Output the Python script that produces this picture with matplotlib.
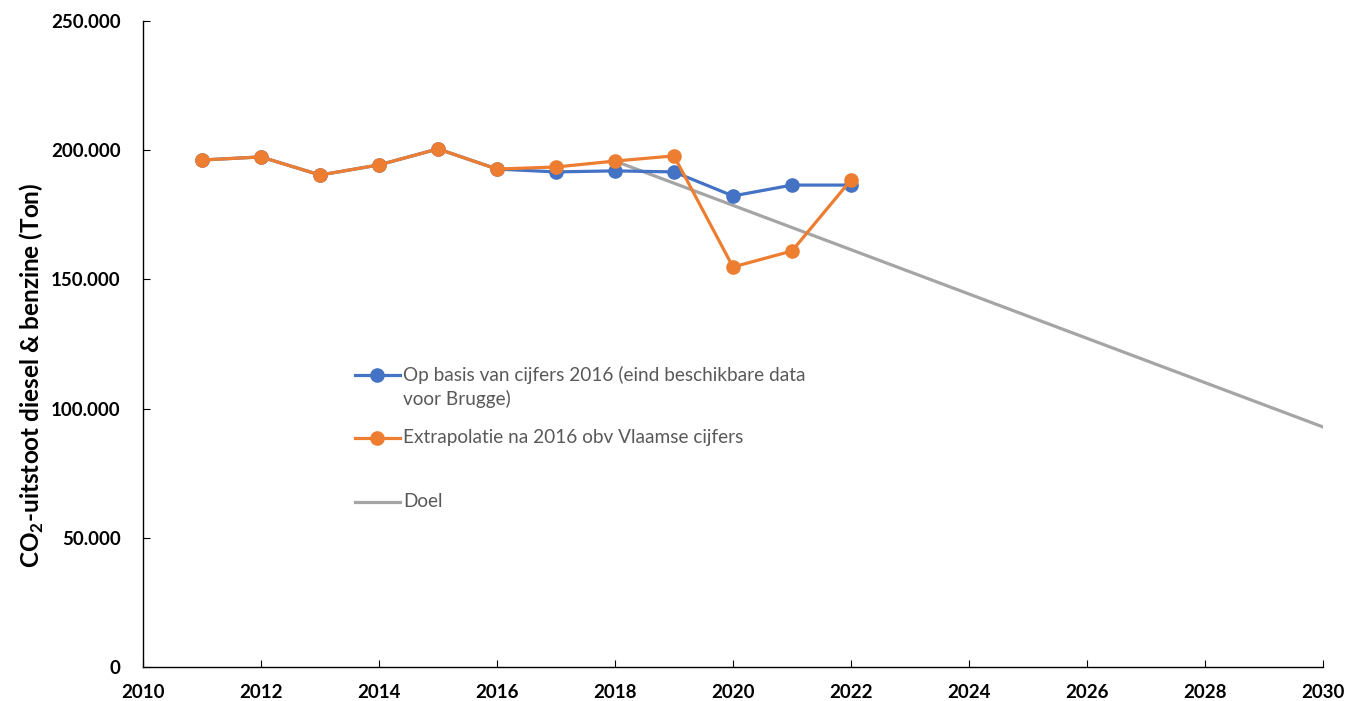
import matplotlib
matplotlib.use("Agg")
import matplotlib.pyplot as plt
from matplotlib.ticker import FuncFormatter

# ── Data ────────────────────────────────────────────────────────────────────
years = [2011, 2012, 2013, 2014, 2015, 2016, 2017, 2018, 2019, 2020, 2021, 2022]
basis_2016 = [196200, 197400, 190400, 194300, 200500, 192700,
              191600, 192000, 191600, 182300, 186500, 186500]
extrapolatie = [196200, 197400, 190400, 194300, 200500, 192700,
                193500, 195800, 197800, 154800, 161000, 188500]
doel_years = [2018, 2030]
doel = [195800, 92900]

labels = ["Op basis van cijfers 2016 (eind beschikbare data\nvoor Brugge)",
          "Extrapolatie na 2016 obv Vlaamse cijfers",
          "Doel"]

BLUE = "#4472C4"
ORANGE = "#ED7D31"
GREY = "#A5A5A5"
TEXT = "#595959"

plt.rcParams["font.family"] = ["Lato", "DejaVu Sans"]
plt.rcParams["mathtext.fontset"] = "custom"
plt.rcParams["mathtext.rm"] = "Lato"
plt.rcParams["mathtext.bf"] = "Lato:bold"

fig = plt.figure(figsize=(13.45, 7.01), dpi=100)
ax = fig.add_axes([143 / 1345, 34 / 701, 1180 / 1345, 646 / 701])

ax.plot(doel_years, doel, color=GREY, lw=2.3, zorder=2)
ax.plot(years, basis_2016, color=BLUE, lw=2.3, marker="o", ms=9.5, zorder=3)
ax.plot(years, extrapolatie, color=ORANGE, lw=2.3, marker="o", ms=9.5, zorder=4)

ax.set_xlim(2010, 2030)
ax.set_ylim(0, 250000)
ax.set_xticks(range(2010, 2031, 2))
ax.set_yticks(range(0, 250001, 50000))
ax.yaxis.set_major_formatter(FuncFormatter(lambda v, p: f"{int(v):,}".replace(",", ".")))

for s in ("top", "right"):
    ax.spines[s].set_visible(False)
for s in ("left", "bottom"):
    ax.spines[s].set_linewidth(1.0)

ax.tick_params(axis="x", direction="in", length=5, width=0.8, pad=12, labelsize=13.5)
ax.tick_params(axis="y", direction="in", length=5, width=0.8, pad=16, labelsize=13.5)
for t in ax.get_xticklabels() + ax.get_yticklabels():
    t.set_fontweight("bold")

ax.set_ylabel(r"CO$_\mathbf{2}$-uitstoot diesel & benzine (Ton)",
              fontsize=17.5, fontweight="bold")
ax.yaxis.set_label_coords(-0.082, 0.452)

# ── Legend (Excel style, drawn by hand) ─────────────────────────────────────
def px(x, y):
    return ((x - 143) / 1180, (667 - y) / 646)

legend_items = [(labels[0], BLUE, True, 375),
                (labels[1], ORANGE, True, 438),
                (labels[2], GREY, False, 502)]
for lab, col, mk, yy in legend_items:
    x0, y0 = px(355, yy)
    x1, _ = px(400, yy)
    xm, _ = px(377, yy)
    ax.plot([x0, x1], [y0, y0], color=col, lw=2.3, transform=ax.transAxes, clip_on=False)
    if mk:
        ax.plot([xm], [y0], color=col, marker="o", ms=9.5, transform=ax.transAxes, clip_on=False)
    tx, ty = px(403, yy - 9)
    ax.text(tx, ty, lab, color=TEXT, fontsize=13.7, va="top", ha="left",
            linespacing=1.42, transform=ax.transAxes)

fig.savefig("out.png", dpi=100)
